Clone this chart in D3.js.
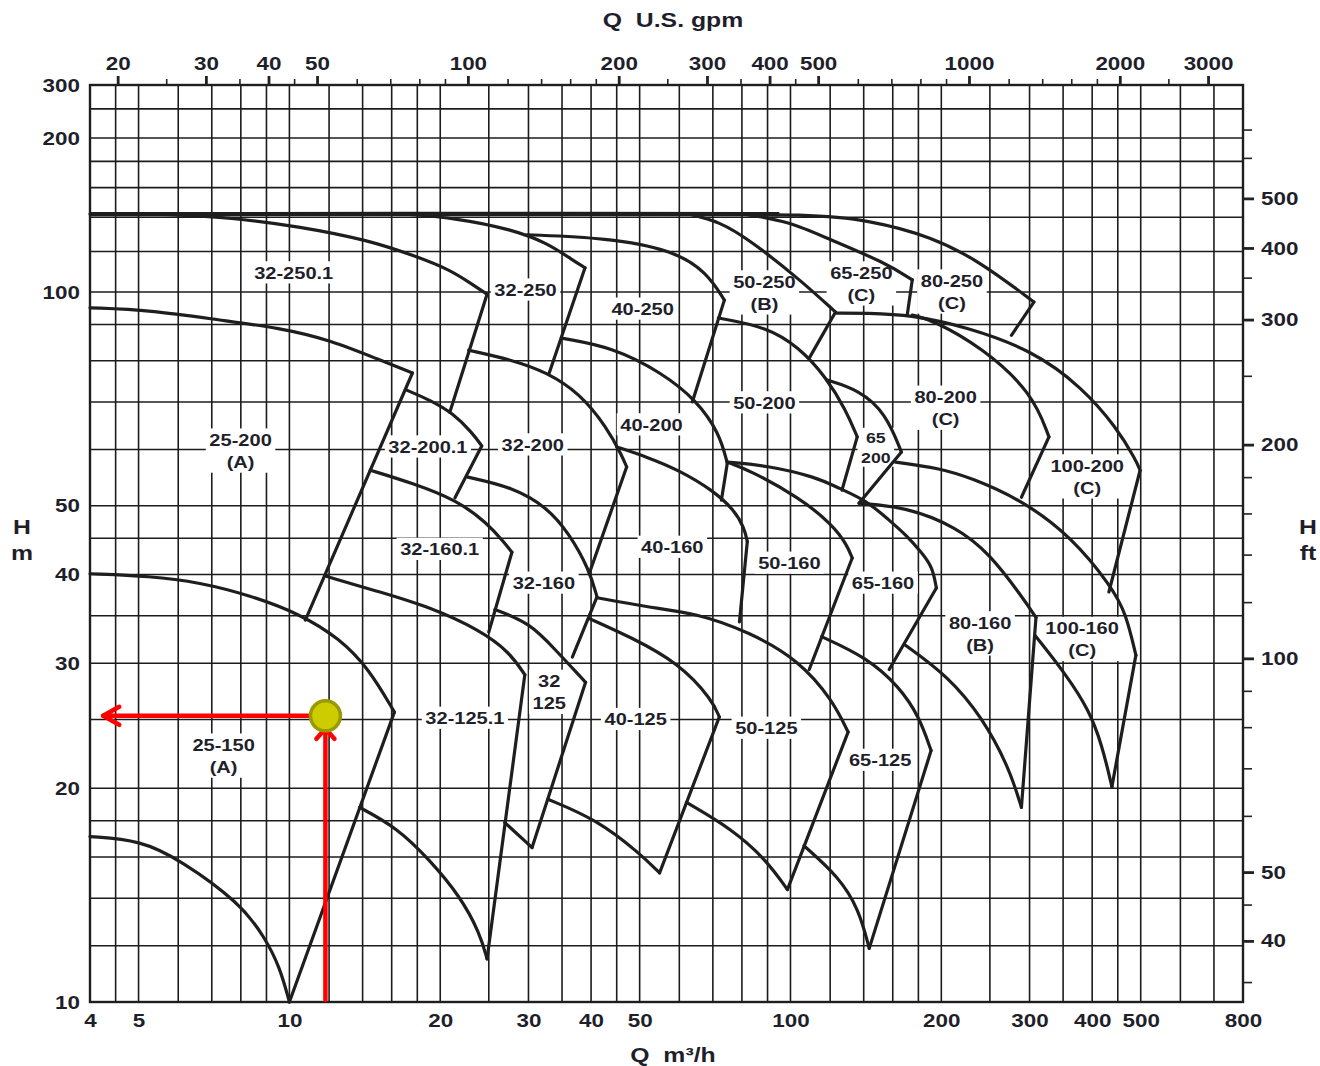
<!DOCTYPE html>
<html>
<head>
<meta charset="utf-8">
<script src="https://cdn.jsdelivr.net/npm/d3@7"></script>
<style>
  body { margin: 0; background: #fff; }
  text { font-family: "Liberation Sans", Arial, sans-serif; font-weight: bold; fill: #1f1f2b; }
  .axis text { font-size: 19px; }
  .title { font-size: 21px; white-space: pre; }
</style>
</head>
<body>
<svg id="chart" width="1320" height="1066"></svg>
<script>
// ---- axis / grid values ----
const qTicks = [4, 5, 10, 20, 30, 40, 50, 100, 200, 300, 400, 500, 800];
const hTicks = [10, 20, 30, 40, 50, 100, 200, 300];
const gpmTicks = [20, 30, 40, 50, 100, 200, 300, 400, 500, 1000, 2000, 3000];
const gpmMinor = [25, 35, 45, 60, 70, 80, 90, 120, 140, 160, 180, 250, 350, 450, 600, 700, 800, 900, 1200, 1400, 1600, 1800, 2500];
const ftTicks = [40, 50, 100, 200, 300, 400, 500];
const ftMinor = [35, 45, 60, 70, 80, 90, 120, 140, 160, 180, 250, 350, 600, 700];
const qGrid = [4, 4.5, 5, 6, 7, 8, 9, 10, 12, 14, 16, 18, 20, 25, 30, 35, 40, 45, 50, 60, 70, 80, 90,
  100, 120, 140, 160, 180, 200, 250, 300, 350, 400, 450, 500, 600, 700, 800];
const hGrid = [10, 12, 14, 16, 18, 20, 25, 30, 35, 40, 45, 50, 60, 70, 80, 90, 100, 120, 140, 160, 180, 200, 250, 300];

// shared shut-off head of the 250 family
const shutOff = [[4, 142], [50, 142.2], [95, 142]];

// ---- H-Q curves [Q m3/h, H m] : max impeller curves ----
const maxCurves = [
  [[4, 142], [60, 142.2], [110, 141.8], [142, 138.5], [192, 128.3], [241, 114], [306, 96.8]], // 80-250
  [[5.5, 142], [7.7, 139.8], [10.5, 134.2], [14.3, 126.5], [18, 117.2], [20.9, 110.5], [23, 104], [24.8, 99.3]], // 32-250.1
  [[17, 142], [21.5, 139.5], [27.9, 132.4], [32.6, 124.8], [36.7, 115.6], [38.9, 111.5]], // 32-250
  [[29.8, 129.4], [43, 127.6], [58.1, 120.9], [68, 109.5], [73.8, 97.4]], // 40-250
  [[62.9, 142], [72.1, 137.3], [82.8, 126.5], [104, 106.1], [123, 93.7]], // 50-250
  [[80.9, 142], [99.5, 137.3], [117.7, 127.6], [155, 114], [175, 105.6]], // 65-250
  [[4, 95], [5.27, 94.3], [7.26, 91.3], [9.57, 89], [12.05, 85.6], [15.15, 80.2], [17.6, 76.9]], // 25-200
  [[17.1, 72.8], [19.1, 70.4], [21.2, 67.5], [23.2, 63.3], [24.2, 60.7]], // 32-200.1
  [[22.8, 82.8], [27.9, 80.2], [32.6, 77.1], [37.9, 72.1], [43, 64.5], [46.2, 58.6], [47.1, 56.7]], // 32-200
  [[34.9, 86.1], [44.2, 83.6], [55.5, 76.9], [64.9, 70.4], [72.1, 63.3], [74.8, 57.4]], // 40-200
  [[71.8, 91.9], [89.5, 89.3], [104, 83.6], [117.7, 75.9], [129, 68.2], [135.9, 62.5]], // 50-200
  [[118, 75.2], [137, 72.8], [155, 67.5], [166.5, 59.5]], // 65-200
  [[123, 93.4], [141.6, 93.4], [175, 92.8], [224, 89.3], [304, 82.8], [382, 73.4], [447, 64.5], [489, 58], [498.6, 56.1]], // 100-200
  [[175, 92.8], [192, 91.3], [241, 83.6], [304, 72.1], [328, 62.5]], // 80-200
  [[14.5, 56.1], [17.6, 53.8], [21.6, 50.9], [24.8, 47.3], [26.9, 44.3], [27.8, 43]], // 32-160.1
  [[22.6, 54.9], [27.9, 53.1], [32.6, 49.8], [36.1, 45.8], [39.7, 40.6], [41.1, 37.2]], // 32-160
  [[45, 60.5], [51.6, 58.6], [60, 56.1], [69.9, 52.6], [77.3, 49.3], [80.9, 46.5], [82, 44.5]], // 40-160
  [[74.8, 57.6], [82.8, 56.1], [104, 51.4], [121.4, 47], [129.7, 44], [132.8, 42.2]], // 50-160
  [[74.8, 57.6], [89.5, 57], [112.4, 54.9], [125, 52.9], [141.6, 50.9], [157.4, 47.7], [170, 45.5], [183, 42.9], [192, 41], [195.5, 38.3]], // 65-160
  [[137, 50.4], [170, 49.8], [214, 46.7], [249, 42.9], [290, 37.2], [309, 34.8]], // 80-160
  [[162, 57.6], [198, 56.5], [230, 54.7], [290, 50.9], [364, 45.2], [438, 38.4], [467, 35.3], [489, 30.8]], // 100-160
  [[4, 40.1], [5.27, 39.8], [6.62, 39], [8.34, 37.4], [10.5, 35.2], [12.6, 32.5], [14.45, 29.4], [16.2, 25.6]], // 25-150
  [[11.8, 39.8], [15.15, 37.8], [19.06, 36], [24, 33.4], [27.5, 31.1], [29.5, 28.9]], // 32-125.1
  [[25.7, 35.7], [30.2, 34.2], [34, 31.3], [39, 28.2]], // 32-125
  [[39.6, 34.7], [47.8, 32.7], [60, 30], [69.9, 26.6], [72.1, 25.2]], // 40-125
  [[41.1, 37.1], [51.6, 36], [64.9, 35.3], [82.8, 33.2], [104, 30.3], [121.4, 26.6], [130.3, 24]], // 50-125
  [[115.4, 32.7], [141.6, 30.6], [165, 27.8], [180.8, 25.2], [190.8, 22.6]] // 65-125
];

// ---- min impeller curves ----
const minCurves = [
  [[4, 17.1], [5.04, 16.9], [6.06, 15.85], [7.96, 13.8], [8.92, 12.35], [9.57, 11.2], [10, 10]], // 25-150
  [[13.8, 18.8], [16.4, 17.6], [19.06, 15.85], [21.9, 14.1], [24, 12.5], [24.8, 11.5]], // 32-125.1
  [[26.9, 17.9], [30.5, 16.5]], // 32-125
  [[32.8, 19.3], [41, 18.08], [50, 16.2], [54.8, 15.2]], // 40-125
  [[62, 19.1], [76.6, 17.5], [89.5, 15.85], [98.6, 14.4]], // 50-125
  [[106.4, 16.6], [125, 15], [137, 13.5], [143.6, 11.9]], // 65-125
  [[169.6, 31.8], [207, 28.7], [241, 25.2], [273, 21.4], [289, 18.8]], // 80-160
  [[308, 32.8], [355, 28.9], [394, 25.8], [418.7, 23], [438, 20.1]] // 100-160
];

// ---- straight end-of-curve edges ----
const edges = [
  [[17.6, 76.9], [10.76, 34.5]], [[24.8, 99.3], [20.9, 67.7]], [[38.9, 111.5], [33, 76.9]],
  [[73.8, 97.4], [63.7, 70]], [[123, 93.7], [109, 80.7]], [[175, 105.6], [171, 92.8]],
  [[306, 96.8], [276, 86.9]], [[24.2, 60.7], [21.4, 51.3]], [[47.1, 56.7], [39.7, 40.2]],
  [[74.8, 57.4], [72.8, 50.9]], [[135.9, 62.5], [126.7, 52.6]], [[166.5, 59.5], [137, 50.4]],
  [[328, 62.5], [289, 51.4]], [[498.6, 56.1], [432, 37.8]], [[27.8, 43], [25, 33.2]],
  [[41.1, 37.2], [36.7, 30.6]], [[82, 44.5], [79.1, 34.3]], [[132.8, 42.2], [109, 29.4]],
  [[195.5, 38.3], [157.4, 29.4]], [[309, 34.8], [289, 18.8]], [[489, 30.8], [438, 20.1]],
  [[16.2, 25.6], [10, 10]], [[29.5, 28.9], [24.8, 11.5]], [[39, 28.2], [30.5, 16.5]],
  [[72.1, 25.2], [54.8, 15.2]], [[130.3, 24], [98.6, 14.4]], [[190.8, 22.6], [143.6, 11.9]]
];

// ---- pump model labels [lines, Q, H] ----
const pumpLabels = [
  [["32-250.1"], 10.2, 109], [["32-250"], 29.6, 100.9], [["40-250"], 50.7, 94.6],
  [["50-250", "(B)"], 88.7, 99.7], [["65-250", "(C)"], 138.5, 103.7], [["80-250", "(C)"], 210, 100],
  [["25-200", "(A)"], 7.99, 59.7], [["32-200.1"], 18.9, 60.5], [["32-200"], 30.6, 60.9],
  [["40-200"], 52.8, 65], [["50-200"], 88.7, 69.8], [["80-200", "(C)"], 204, 68.6],
  [["65", "200"], 148, 60.3], [["100-200", "(C)"], 391, 54.9],
  [["32-160.1"], 19.95, 43.4], [["32-160"], 32.2, 38.9], [["40-160"], 58.1, 43.7],
  [["50-160"], 99.5, 41.5], [["65-160"], 153, 38.9], [["80-160", "(B)"], 239, 33],
  [["100-160", "(C)"], 382, 32.4], [["32", "125"], 33, 27.3], [["32-125.1"], 22.4, 25.1],
  [["40-125"], 49.1, 25], [["50-125"], 89.5, 24.3], [["65-125"], 151, 21.9],
  [["25-150", "(A)"], 7.39, 22.2]
];

// duty point marked in red
const dutyPoint = [11.8, 25.3];
const arrowTipQ = 4.25;

const SX = 1.18; // the printed lettering is a bit wide

const svg = d3.select("#chart");
const x = d3.scaleLog().domain([4, 800]).range([90, 1243]);
const y = d3.scaleLog().domain([10, 100, 200, 300]).range([1002, 292, 138, 85]); // upper part is compressed
const xGpm = d3.scaleLog().domain(x.domain().map(d => d / 0.2271)).range(x.range());
const yFt = d3.scaleLog().domain(y.domain().map(d => d / 0.3048)).range(y.range());

const [x0, x1] = x.range();
const yTop = y(300), yBot = y(10);

// grid
const grid = svg.append("g").attr("stroke", "#1c1c1c").attr("stroke-width", 1.6);
grid.selectAll("line.v").data(qGrid).join("line")
  .attr("class", "v")
  .attr("x1", d => x(d)).attr("x2", d => x(d)).attr("y1", yTop).attr("y2", yBot);
grid.selectAll("line.h").data(hGrid).join("line")
  .attr("class", "h")
  .attr("x1", x0).attr("x2", x1).attr("y1", d => y(d)).attr("y2", d => y(d));

// labels with white boxes (they cut the grid)
const labelLayer = svg.append("g");
pumpLabels.forEach(([lines, q, h]) => {
  const g = labelLayer.append("g").attr("transform", `translate(${x(q)},${y(h)}) scale(${SX},1)`);
  const fs = lines[0] === "65" ? 15 : 17;
  const lh = fs * 1.3;
  lines.forEach((s, i) => {
    g.append("text")
      .attr("text-anchor", "middle")
      .attr("dy", "0.35em")
      .attr("y", (i - (lines.length - 1) / 2) * lh)
      .style("font-size", fs + "px")
      .text(s);
  });
  const bb = g.node().getBBox();
  g.insert("rect", "text")
    .attr("x", bb.x - 3).attr("y", bb.y - 2)
    .attr("width", bb.width + 6).attr("height", bb.height + 3)
    .attr("fill", "#fff");
});

// curves
const smooth = d3.line().x(d => x(d[0])).y(d => y(d[1])).curve(d3.curveBasis);
const straight = d3.line().x(d => x(d[0])).y(d => y(d[1]));
const curves = svg.append("g")
  .attr("fill", "none").attr("stroke", "#1e1e1e").attr("stroke-width", 3.2)
  .attr("stroke-linejoin", "round").attr("stroke-linecap", "round");
curves.append("path").datum(shutOff).attr("d", smooth)
  .attr("stroke-width", 4.2).attr("stroke-linecap", "butt"); // printed heavier
curves.selectAll("path.max").data(maxCurves).join("path").attr("class", "max").attr("d", smooth);
curves.selectAll("path.min").data(minCurves).join("path").attr("class", "min").attr("d", smooth);
curves.selectAll("path.edge").data(edges).join("path").attr("class", "edge").attr("d", straight);

// frame
svg.append("rect")
  .attr("x", x0).attr("y", yTop).attr("width", x1 - x0).attr("height", yBot - yTop)
  .attr("fill", "none").attr("stroke", "#1e1e1e").attr("stroke-width", 2.4);

function stretchText(g) {
  g.selectAll("text").each(function () {
    const t = d3.select(this);
    const xv = +t.attr("x") || 0;
    t.attr("x", xv / SX).attr("transform", `scale(${SX},1)`);
  });
}

// axes
svg.append("g").attr("class", "axis").attr("transform", `translate(0,${yBot})`)
  .call(d3.axisBottom(x).tickValues(qTicks).tickSize(0).tickPadding(12).tickFormat(d3.format("d")))
  .call(g => g.select(".domain").remove())
  .call(stretchText);

svg.append("g").attr("class", "axis").attr("transform", `translate(${x0},0)`)
  .call(d3.axisLeft(y).tickValues(hTicks).tickSize(0).tickPadding(10).tickFormat(d3.format("d")))
  .call(g => g.select(".domain").remove())
  .call(stretchText);

svg.append("g").attr("class", "axis").attr("transform", `translate(0,${yTop})`)
  .call(d3.axisTop(xGpm).tickValues(gpmMinor).tickSize(6).tickFormat(""))
  .call(g => g.select(".domain").remove())
  .call(g => g.selectAll("line").attr("stroke", "#222").attr("stroke-width", 1.6));

svg.append("g").attr("class", "axis").attr("transform", `translate(0,${yTop})`)
  .call(d3.axisTop(xGpm).tickValues(gpmTicks).tickSize(9).tickPadding(6).tickFormat(d3.format("d")))
  .call(g => g.select(".domain").remove())
  .call(g => g.selectAll("line").attr("stroke", "#222").attr("stroke-width", 2.8))
  .call(stretchText);

svg.append("g").attr("class", "axis").attr("transform", `translate(${x1},0)`)
  .call(d3.axisRight(yFt).tickValues(ftMinor).tickSize(9).tickFormat(""))
  .call(g => g.select(".domain").remove())
  .call(g => g.selectAll("line").attr("stroke", "#222").attr("stroke-width", 1.6));

svg.append("g").attr("class", "axis").attr("transform", `translate(${x1},0)`)
  .call(d3.axisRight(yFt).tickValues(ftTicks).tickSize(11).tickPadding(7).tickFormat(d3.format("d")))
  .call(g => g.select(".domain").remove())
  .call(g => g.selectAll("line").attr("stroke", "#222").attr("stroke-width", 2.8))
  .call(stretchText);

// axis titles
function title(str, tx, ty) {
  svg.append("text").attr("class", "title")
    .attr("transform", `translate(${tx},${ty}) scale(${SX},1)`)
    .attr("text-anchor", "middle").attr("dy", "0.35em").text(str);
}
title("Q  U.S. gpm", 673, 20);
title("Q  m³/h", 673, 1055);
title("H", 22, 527);
title("m", 22, 553);
title("H", 1308, 527);
title("ft", 1308, 553);

// red duty point annotation
const px = x(dutyPoint[0]), py = y(dutyPoint[1]);
const r = 15;
const red = svg.append("g").attr("stroke", "#f00").attr("stroke-width", 4.5)
  .attr("fill", "none").attr("stroke-linecap", "round").attr("stroke-linejoin", "round");
const tip = x(arrowTipQ);
red.append("line").attr("x1", px).attr("x2", tip).attr("y1", py).attr("y2", py);
red.append("path").attr("d", `M${tip + 16},${py - 9}L${tip},${py}L${tip + 16},${py + 9}`);
red.append("line").attr("x1", px).attr("x2", px).attr("y1", yBot - 2).attr("y2", py + r);
red.append("path").attr("d", `M${px - 9},${py + r + 8}L${px},${py + r - 2}L${px + 9},${py + r + 8}`);
svg.append("circle").attr("cx", px).attr("cy", py).attr("r", r)
  .attr("fill", "#cccc00").attr("stroke", "#999900").attr("stroke-width", 3.5);
</script>
</body>
</html>
